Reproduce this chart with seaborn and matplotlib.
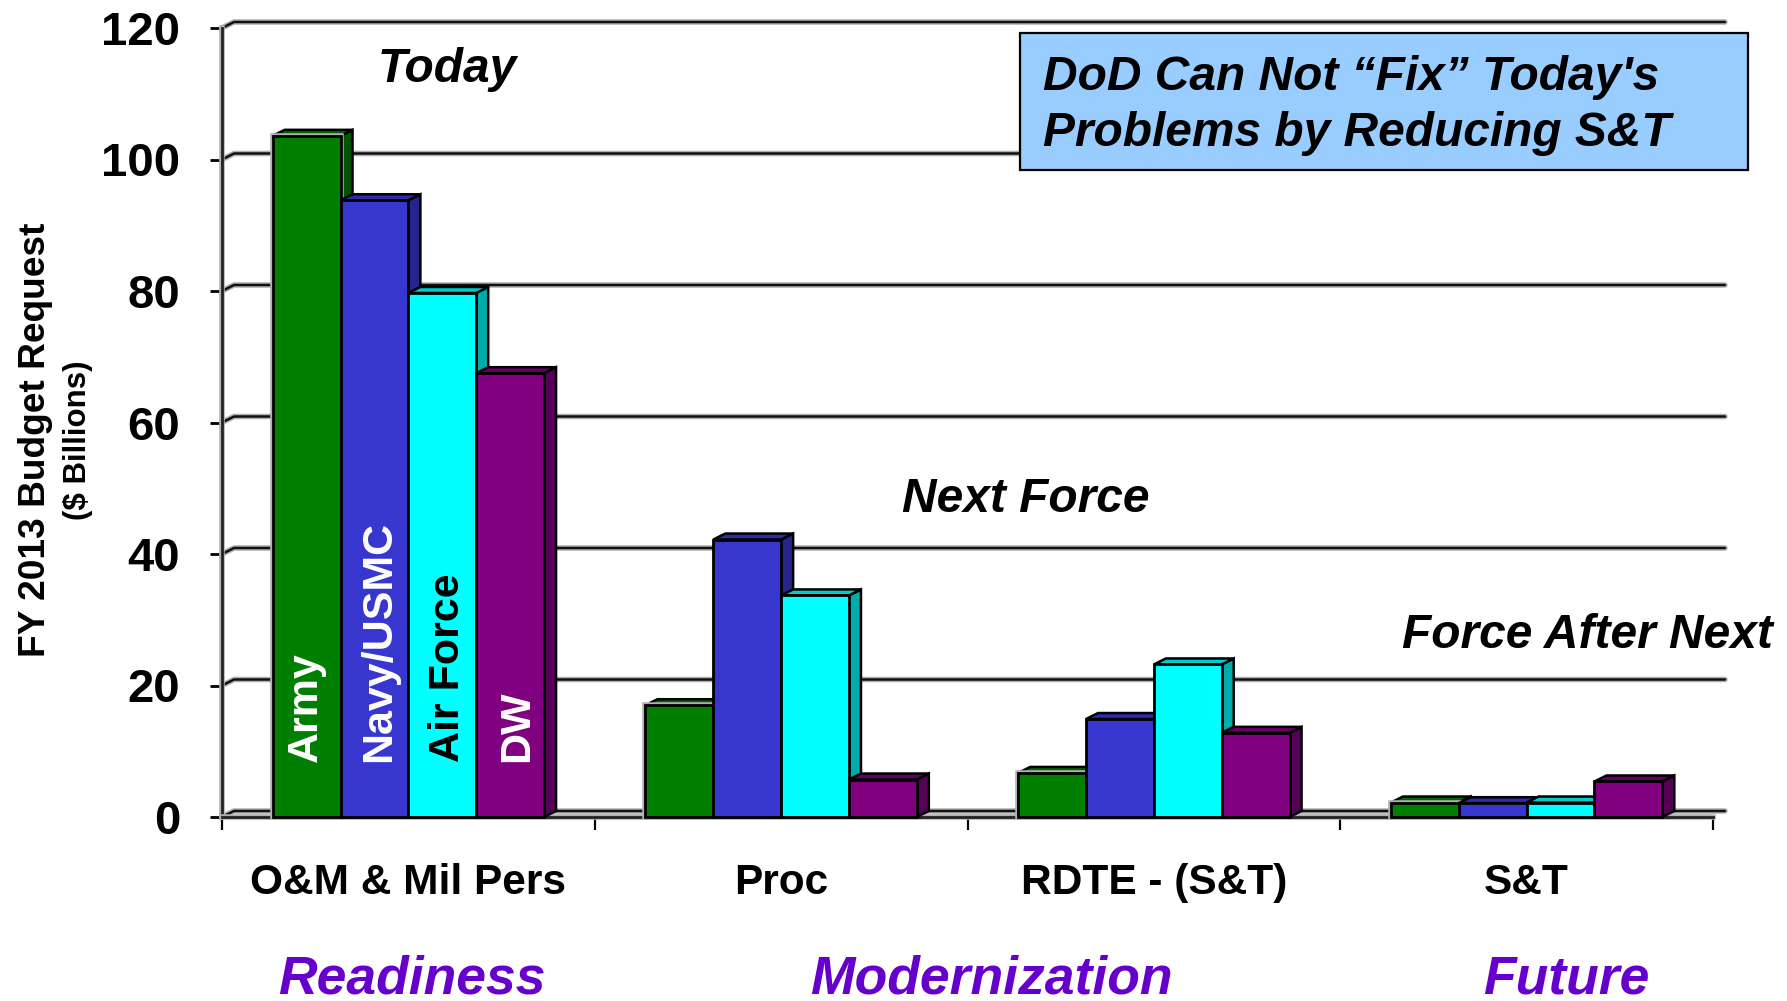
import matplotlib
matplotlib.use('Agg')
import matplotlib.pyplot as plt
import matplotlib.patheffects as pe
from matplotlib.patches import Polygon, Rectangle
from matplotlib.transforms import IdentityTransform
import numpy as np
import pandas as pd
import seaborn as sns

# Values ($ billions)
categories = ["O&M & Mil Pers", "Proc", "RDTE - (S&T)", "S&T"]
services = ["Army", "Navy/USMC", "Air Force", "DW"]
army = [103.6, 17.0, 6.7, 2.2]
navy = [93.8, 42.2, 14.9, 2.1]
air_force = [79.7, 33.7, 23.2, 2.2]
dw = [67.5, 5.7, 12.8, 5.4]
y_ticks = [0, 20, 40, 60, 80, 100, 120]

bar_colors = ["#007F00", "#3737CF", "#00FFFF", "#800080"]

W, H = 1787, 1001
DEPTH_X, DEPTH_Y = 12, 6  # fake 3D offset in pixels

sns.set_theme(style="white")
plt.rcParams['font.family'] = ['Liberation Sans', 'DejaVu Sans']
plt.rcParams['text.color'] = 'black'


def put(x, y, s, **kw):
    """Place text by pixel position, y measured from the top of the image."""
    return fig.text(x / W, 1 - y / H, s, **kw)


df = pd.DataFrame({
    "category": categories * 4,
    "service": np.repeat(services, 4),
    "value": army + navy + air_force + dw,
})

fig = plt.figure(figsize=(W / 100, H / 100), dpi=100, facecolor="white")
ax = fig.add_axes([222 / W, 1 - 817 / H, (1713 - 222) / W, (817 - 28) / H])

sns.barplot(data=df, x="category", y="value", hue="service", order=categories,
            hue_order=services, palette=bar_colors, width=0.728, gap=0, saturation=1,
            edgecolor="black", linewidth=2, legend=False, ax=ax, zorder=3)
ax.set_xlim(-0.5, 3.5)
ax.set_ylim(0, 120)
ax.set_xlabel("")
ax.set_ylabel("")
ax.patch.set_alpha(0)

halo = [pe.withStroke(linewidth=4, foreground="#b0b0b0")]

# back wall gridlines, with the little kink from the tick to the wall
for v in y_ticks:
    x0, y0 = ax.transData.transform((-0.5, v))
    x1, y1 = ax.transData.transform((3.5, v))
    ax.plot([x0, x0 + DEPTH_X, x1 + DEPTH_X], [y0, y0 + DEPTH_Y, y1 + DEPTH_Y],
            color="#111111", lw=1.8, transform=IdentityTransform(), clip_on=False,
            zorder=1, path_effects=halo)

# side and top faces for each bar, drawn left to right so they overlap correctly
bars = sorted(ax.patches, key=lambda p: p.get_x())
for i, bar in enumerate(bars):
    (xa, ya) = ax.transData.transform((bar.get_x(), 0))
    (xb, yb) = ax.transData.transform((bar.get_x() + bar.get_width(), bar.get_height()))
    rgb = np.array(bar.get_facecolor()[:3])
    side = Polygon([(xb, ya), (xb + DEPTH_X, ya + DEPTH_Y), (xb + DEPTH_X, yb + DEPTH_Y), (xb, yb)],
                   closed=True, fc=rgb * 0.67, ec="black", lw=1.8,
                   transform=IdentityTransform(), clip_on=False, zorder=3 + i * 0.1)
    top = Polygon([(xa, yb), (xa + DEPTH_X, yb + DEPTH_Y), (xb + DEPTH_X, yb + DEPTH_Y), (xb, yb)],
                  closed=True, fc=rgb * 0.8, ec="black", lw=1.8,
                  transform=IdentityTransform(), clip_on=False, zorder=3 + i * 0.1)
    ax.add_patch(side)
    ax.add_patch(top)
    bar.set_zorder(3.05 + i * 0.1)
    bar.set_clip_on(False)
    if i % 4 == 0:
        # only the left bar of a group shows the soft grey edge
        bar.set_path_effects(halo)

for name in ["top", "right"]:
    ax.spines[name].set_visible(False)
for name in ["left", "bottom"]:
    ax.spines[name].set_color("#222222")
    ax.spines[name].set_linewidth(2)
    ax.spines[name].set_path_effects(halo)
    ax.spines[name].set_zorder(2)

ax.set_yticks(y_ticks)
ax.set_yticklabels([str(v) for v in y_ticks], fontsize=34, fontweight="bold", color="black")
ax.tick_params(axis="y", left=True, length=9, width=2, color="black", pad=21)

ax.set_xticks(range(4))
ax.set_xticklabels(categories, fontsize=30.5, fontweight="bold", color="black")
ax.set_xticks(np.arange(-0.5, 4), minor=True)
ax.tick_params(axis="x", which="major", bottom=False, pad=27)
ax.tick_params(axis="x", which="minor", bottom=True, length=9, width=1.6, color="black")

# axis titles
put(36, 440, "FY 2013 Budget Request", rotation=90, ha="center", va="center",
    fontsize=26.7, fontweight="bold")
put(78, 440, "($ Billions)", rotation=90, ha="center", va="center",
    fontsize=22.5, fontweight="bold")

# service names written up the first group's bars
for x, name, col in [(306, "Army", "white"), (379, "Navy/USMC", "white"),
                     (448, "Air Force", "black"), (517, "DW", "white")]:
    put(x, 762, name, rotation=90, ha="center", va="bottom", fontsize=31,
        fontweight="bold", color=col, zorder=10)

# captions
italic = dict(fontweight="bold", fontstyle="italic", ha="center", va="center", color="black")
put(447, 69, "Today", fontsize=34.5, **italic)
put(1026, 499, "Next Force", fontsize=34.5, **italic)
put(1587, 635, "Force After Next", fontsize=34.5, **italic)

purple = dict(fontweight="bold", fontstyle="italic", ha="center", va="center", color="#6600CC")
put(412, 979, "Readiness", fontsize=38.5, **purple)
put(991, 979, "Modernization", fontsize=38.5, **purple)
put(1566, 979, "Future", fontsize=38.5, **purple)

# call-out box
fig.add_artist(Rectangle((1020 / W, 1 - 170 / H), (1748 - 1020) / W, (170 - 33) / H,
                         fc="#99CCFF", ec="black", lw=1.6, transform=fig.transFigure, zorder=9))
put(1043, 77, "DoD Can Not \u201cFix\u201d Today's", fontsize=34.5, ha="left", va="center",
    fontweight="bold", fontstyle="italic", zorder=10)
put(1043, 134, "Problems by Reducing S&T", fontsize=34.5, ha="left", va="center",
    fontweight="bold", fontstyle="italic", zorder=10)

fig.savefig("out.png", dpi=100)
